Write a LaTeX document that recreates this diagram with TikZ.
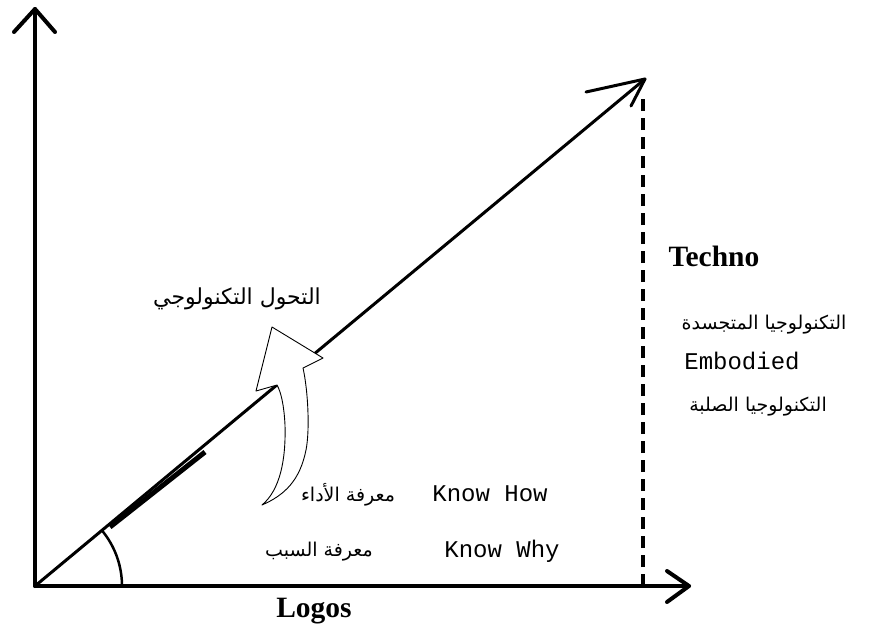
\documentclass[tikz,border=0pt]{standalone}
\usepackage{fontspec}
\setmainfont{Liberation Serif}
\newfontfamily\arabicfont[Script=Arabic]{DejaVu Sans}
\newfontfamily\monofont{Liberation Mono}
\TeXXeTstate=1
\begin{document}
\begin{tikzpicture}[x=1pt,y=-1pt,
  axis/.style={line width=4pt,line cap=round,line join=round},
  ar/.style={font=\arabicfont\fontsize{19}{21}\selectfont,inner sep=0pt},
  en/.style={font=\monofont\fontsize{24}{26}\selectfont,inner sep=0pt},
  bold/.style={font=\bfseries\fontsize{29.5}{32}\selectfont,inner sep=0pt}]
\useasboundingbox (0,0) rectangle (873,632);
\coordinate (O) at (35,586);
\coordinate (Ytop) at (35,9);
\coordinate (Xend) at (689,586);
\coordinate (T) at (645,79);
\coordinate (D) at (643,586);
% axes
\draw[axis] (O) -- (Ytop);
\draw[axis] (14,32) -- (Ytop) -- (55,32);
\draw[axis] (O) -- (Xend);
\draw[axis] (667,571) -- (Xend) -- (667,602);
% diagonal
\draw[line width=3pt,line cap=round] (O) -- (T);
\draw[line width=3pt,line cap=round,line join=round] (586,92) -- (T) -- (631,106);
\draw[line width=5pt] (110,527) -- (205,452);
% dashed vertical
\draw[line width=4pt,dash pattern=on 12pt off 7pt] (D) -- (643,95);
% angle arc
\draw[line width=2.5pt] (122,586) arc[start angle=0,end angle=-39.7,radius=87];
% curved hollow arrow
\draw[line width=0.9pt,fill=white,line join=round]
  (262,505) .. controls (280,490) and (286,460) .. (285,425)
  .. controls (284,405) and (281,392) .. (277,385)
  -- (256,391) -- (272,327) -- (323,358) -- (303,368)
  .. controls (308,390) and (310,430) .. (306,450)
  .. controls (300,480) and (285,495) .. (262,505) -- cycle;
% labels
\node[ar,font=\arabicfont\fontsize{22}{24}\selectfont] (tahawwul) at (237,299) {\beginR التحول التكنولوجي\endR};
\node[ar] (adaa) at (348,495) {\beginR معرفة الأداء\endR};
\node[ar] (sabab) at (319,552) {\beginR معرفة السبب\endR};
\node[en] (howl) at (490,494) {Know How};
\node[en] (whyl) at (502,551) {Know Why};
\node[bold] (techno) at (714,256) {Techno};
\node[ar] (mutajassida) at (764,325) {\beginR التكنولوجيا المتجسدة\endR};
\node[en] (embodied) at (742,361) {Embodied};
\node[ar] (sulba) at (758,407) {\beginR التكنولوجيا الصلبة\endR};
\node[bold] (logos) at (314,611) {Logos};
\end{tikzpicture}
\end{document}
